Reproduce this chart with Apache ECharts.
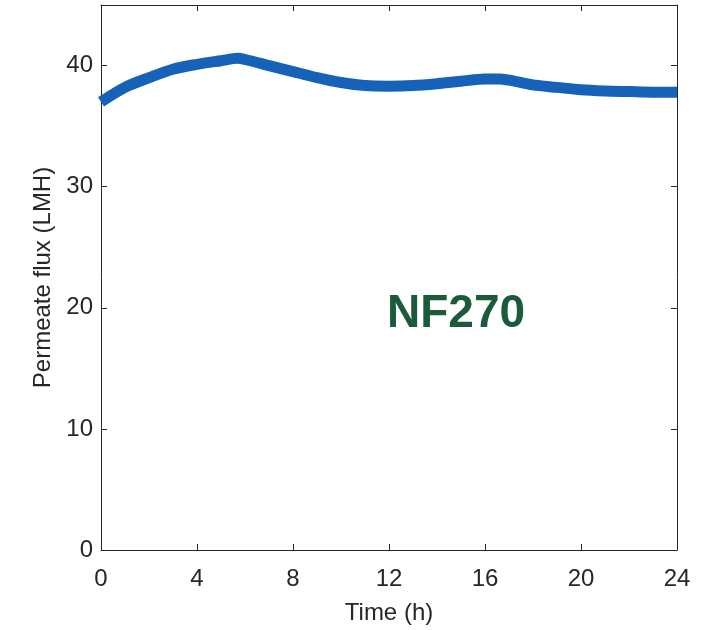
<!DOCTYPE html>
<html>
<head>
<meta charset="utf-8">
<script src="https://cdn.jsdelivr.net/npm/echarts@6/dist/echarts.min.js"></script>
<style>
  html, body { margin: 0; padding: 0; background: #fff; }
  #main { width: 714px; height: 630px; }
</style>
</head>
<body>
<div id="main"></div>
<script>
// time (h) and permeate flux (LMH)
var timeH = [0, 1, 2, 3, 4, 5, 5.7, 6, 7, 8, 9, 10, 11, 12, 13, 14, 15, 16, 16.6, 17, 18, 19, 20, 21, 22, 23, 24];
var fluxLMH = [37.0, 38.2, 39.0, 39.7, 40.1, 40.4, 40.6, 40.5, 40.0, 39.5, 39.0, 38.6, 38.35, 38.3, 38.35, 38.5, 38.7, 38.9, 38.9, 38.8, 38.4, 38.2, 38.0, 37.9, 37.85, 37.8, 37.8];
var label = "NF270";

var chart = echarts.init(document.getElementById("main"));

var seriesData = [];
for (var i = 0; i < timeH.length; i++) {
  seriesData.push([timeH[i], fluxLMH[i]]);
}

var axisColor = "#262626";
var font = "Liberation Sans";

chart.setOption({
  animation: false,
  grid: { left: 101, right: 37, top: 5, bottom: 80 },
  xAxis: [
    {
      type: "value",
      min: 0,
      max: 24,
      interval: 4,
      name: "Time (h)",
      nameLocation: "middle",
      nameGap: 51,
      nameTextStyle: { color: axisColor, fontSize: 24, fontFamily: font },
      axisLine: { onZero: false, lineStyle: { color: axisColor, width: 1 } },
      axisTick: { inside: true, length: 6, lineStyle: { color: axisColor } },
      axisLabel: { color: axisColor, fontSize: 24, fontFamily: font, margin: 17 },
      splitLine: { show: false }
    },
    {
      type: "value",
      position: "top",
      min: 0,
      max: 24,
      interval: 4,
      axisLine: { onZero: false, lineStyle: { color: axisColor, width: 1 } },
      axisTick: { inside: true, length: 6, lineStyle: { color: axisColor } },
      axisLabel: { show: false },
      splitLine: { show: false }
    }
  ],
  yAxis: [
    {
      type: "value",
      min: 0,
      max: 45,
      interval: 10,
      name: "Permeate flux (LMH)",
      nameLocation: "middle",
      nameGap: 46,
      nameTextStyle: { color: axisColor, fontSize: 24, fontFamily: font },
      axisLine: { show: true, onZero: false, lineStyle: { color: axisColor, width: 1 } },
      axisTick: { show: true, inside: true, length: 6, lineStyle: { color: axisColor } },
      axisLabel: { color: axisColor, fontSize: 24, fontFamily: font, margin: 8, showMaxLabel: false },
      splitLine: { show: false }
    },
    {
      type: "value",
      position: "right",
      min: 0,
      max: 45,
      interval: 10,
      axisLine: { show: true, onZero: false, lineStyle: { color: axisColor, width: 1 } },
      axisTick: { show: true, inside: true, length: 6, lineStyle: { color: axisColor } },
      axisLabel: { show: false },
      splitLine: { show: false }
    }
  ],
  series: [
    {
      type: "line",
      data: seriesData,
      showSymbol: false,
      smooth: 0.3,
      lineStyle: { color: "#1562b8", width: 11, cap: "butt" }
    }
  ],
  graphic: [
    {
      type: "text",
      left: 387,
      top: 291,
      style: {
        text: label,
        fill: "#1b5a3a",
        font: "bold 46px Liberation Sans"
      }
    }
  ]
});
</script>
</body>
</html>
